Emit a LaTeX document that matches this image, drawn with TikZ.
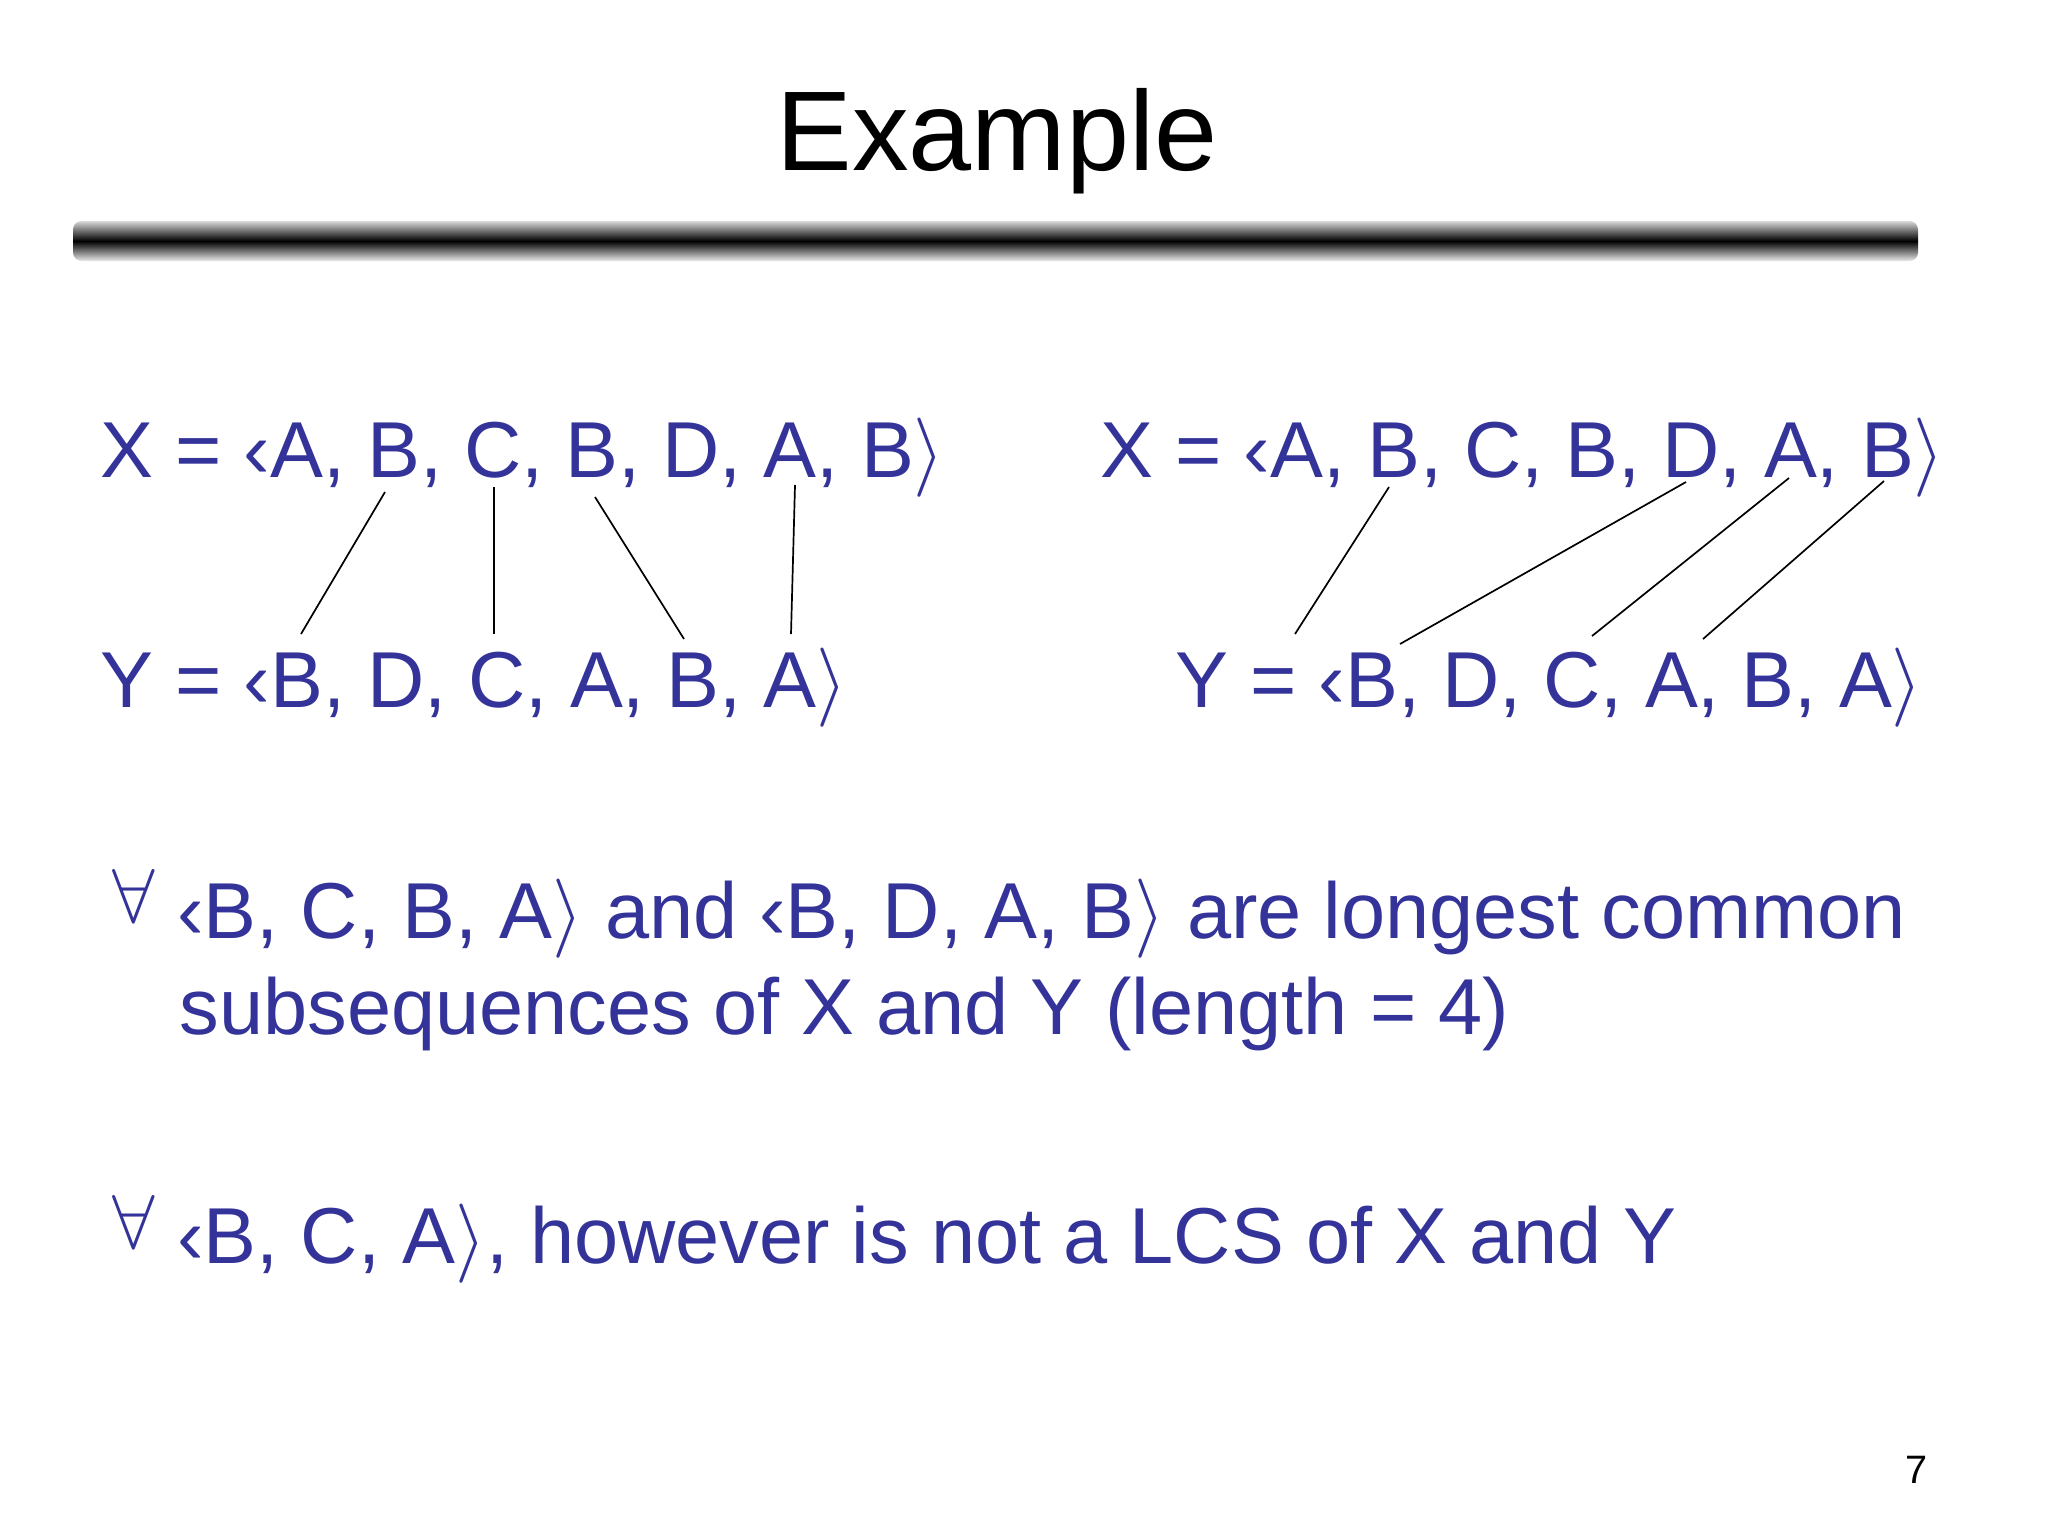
\RequirePackage{fix-cm}
\documentclass[tikz,border=0pt]{standalone}
\usepackage{fontspec}
\setmainfont{Liberation Sans}
\definecolor{slideblue}{RGB}{51,51,153}
\newcommand{\seqL}{‹}
\newcommand{\seqR}{$\rangle$}
\tikzset{
  seq/.style={anchor=base west, inner sep=0pt, text=slideblue, font=\fontsize{28}{34}\selectfont},
  bul/.style={anchor=base west, inner sep=0pt, text=slideblue, font=\fontsize{27}{27}\selectfont},
  match/.style={line width=.6pt}
}

\begin{document}
\begin{tikzpicture}[x=0.0124023cm, y=-0.0124023cm]
\useasboundingbox (0,0) rectangle (2048,1536);
\node[anchor=base, inner sep=0pt, font=\fontsize{40}{48}\selectfont] (title) at (997,170) {Example};
\shade[rounded corners=3pt, top color=black!15, bottom color=black!8, middle color=black] (73,221) rectangle (1918,261);

% the two pairs of sequences
\node[seq] (xl) at (100,477) {X = \seqL A, B, C, B, D, A, B\seqR};
\node[seq] (yl) at (100,707) {Y = \seqL B, D, C, A, B, A\seqR};
\node[seq] (xr) at (1100,477) {X = \seqL A, B, C, B, D, A, B\seqR};
\node[seq] (yr) at (1175,707) {Y = \seqL B, D, C, A, B, A\seqR};

% matches, left
\coordinate (l1x) at (385,492); \coordinate (l1y) at (301,634);
\coordinate (l2x) at (494,487); \coordinate (l2y) at (494,634);
\coordinate (l3x) at (595,497); \coordinate (l3y) at (684,639);
\coordinate (l4x) at (795,485); \coordinate (l4y) at (791,634);
% matches, right
\coordinate (r1x) at (1389,487); \coordinate (r1y) at (1295,634);
\coordinate (r2x) at (1686,482); \coordinate (r2y) at (1400,644);
\coordinate (r3x) at (1789,478); \coordinate (r3y) at (1592,636);
\coordinate (r4x) at (1884,481); \coordinate (r4y) at (1703,639);
\foreach \s in {l,r}
  \foreach \i in {1,...,4}
    \draw[match] (\s\i x)--(\s\i y);

\node[bul] (b1) at (112,922) {$\forall$};
\node[seq] (t1) at (177,938) {\seqL B, C, B, A\seqR{} and \seqL B, D, A, B\seqR{} are longest common};
\node[seq] (t1b) at (179,1034) {subsequences of X and Y (length = 4)};
\node[bul] (b2) at (112,1248) {$\forall$};
\node[seq] (t2) at (177,1263) {\seqL B, C, A\seqR, however is not a LCS of X and Y};

\node[anchor=base west, inner sep=0pt, font=\fontsize{14}{17}\selectfont] (pg) at (1905,1483) {7};
\end{tikzpicture}
\end{document}
